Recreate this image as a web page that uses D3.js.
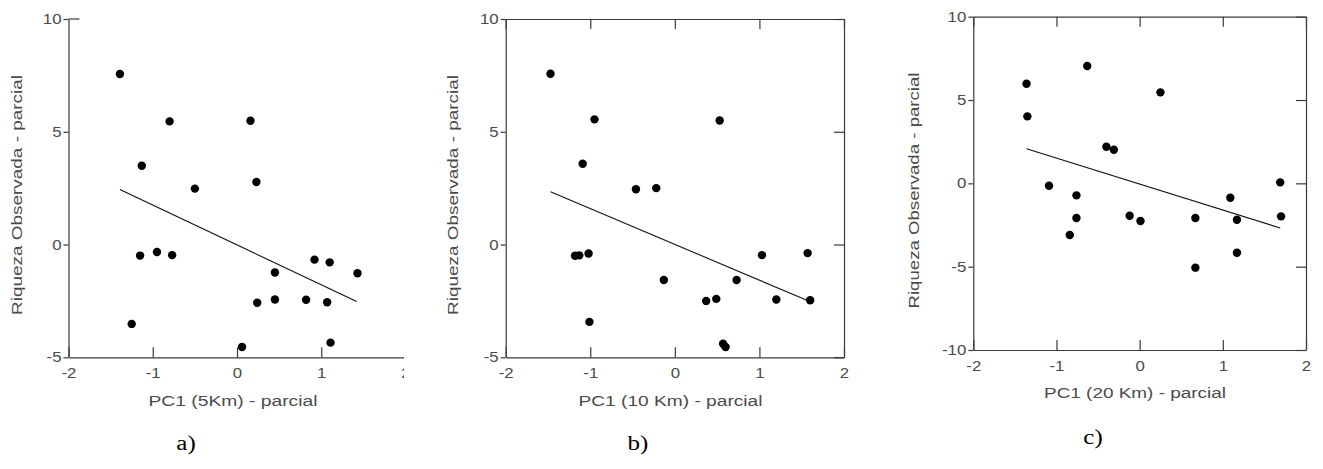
<!DOCTYPE html>
<html><head><meta charset="utf-8">
<script src="https://cdn.jsdelivr.net/npm/d3@7/dist/d3.min.js"></script>
<style>body{margin:0;background:#fff}svg{display:block}</style>
</head><body>
<svg id="c" width="1323" height="469"></svg>
<script>
// ---- data ----
const xTicks = [-2, -1, 0, 1, 2];
const yTicksAB = [-5, 0, 5, 10];
const yTicksC = [-10, -5, 0, 5, 10];

const xA = [-1.39,-0.80,0.16,-1.13,-0.50,0.23,-1.15,-0.95,-0.77,0.92,1.10,0.45,1.43,0.24,0.45,0.82,1.07,-1.25,0.06,1.11];
const yA = [7.56,5.46,5.49,3.49,2.48,2.77,-0.49,-0.33,-0.47,-0.67,-0.79,-1.24,-1.27,-2.58,-2.44,-2.45,-2.56,-3.52,-4.54,-4.35];
const fitA = {x: [-1.39, 1.42], y: [2.44, -2.53]};

const xB = [-1.47,-0.95,0.53,-1.09,-0.46,-0.22,-1.18,-1.13,-1.02,1.03,1.57,-0.13,0.73,0.37,0.49,1.20,1.60,-1.01,0.57,0.60];
const yB = [7.57,5.55,5.50,3.58,2.45,2.50,-0.50,-0.48,-0.40,-0.47,-0.38,-1.57,-1.57,-2.50,-2.41,-2.44,-2.47,-3.43,-4.40,-4.54];
const fitB = {x: [-1.47, 1.59], y: [2.34, -2.52]};

const xC = [-1.36,-1.35,-0.63,0.25,-0.40,-0.31,-1.09,-0.76,-0.76,-0.84,-0.12,0.01,0.67,0.67,1.09,1.17,1.17,1.69,1.70];
const yC = [5.98,4.02,7.04,5.46,2.20,2.02,-0.14,-0.72,-2.08,-3.10,-1.94,-2.26,-2.08,-5.06,-0.86,-2.18,-4.16,0.06,-1.98];
const fitC = {x: [-1.36, 1.69], y: [2.08, -2.68]};

const yTitle = "Riqueza Observada - parcial";
const xTitles = ["PC1 (5Km) - parcial", "PC1 (10 Km) - parcial", "PC1 (20 Km) - parcial"];
const panelLabels = ["a)", "b)", "c)"];

// ---- layout ----
const svg = d3.select("#c");
const TXT = "#4a4a4a", AX = "#3a3a3a";
const SANS = "Arial, 'Liberation Sans', sans-serif";
const SX = 1.2;
const fmt = d => String(d);

const panels = [
  {xs: xA, ys: yA, fit: fitA, yTicks: yTicksAB, yDom: [-5, 10], L: 68.5, R: 405.5, T: 19, B: 357.3, clip: 404, box: false,
   yTitleX: 22, yTitleY: 195, yTitleLen: 240, xTitleX: 233, xTitleY: 406, xTitleLen: 169, labX: 186, labY: 450},
  {xs: xB, ys: yB, fit: fitB, yTicks: yTicksAB, yDom: [-5, 10], L: 505.7, R: 844, T: 19, B: 357.3, clip: null, box: true,
   yTitleX: 458, yTitleY: 195, yTitleLen: 240, xTitleX: 670.5, xTitleY: 406, xTitleLen: 184, labX: 638, labY: 450},
  {xs: xC, ys: yC, fit: fitC, yTicks: yTicksC, yDom: [-10, 10], L: 973.3, R: 1306, T: 16.7, B: 350, clip: null, box: true,
   yTitleX: 919, yTitleY: 190.5, yTitleLen: 236, xTitleX: 1135, xTitleY: 398, xTitleLen: 182, labX: 1093, labY: 444}
];

panels.forEach((p, i) => {
  const x = d3.scaleLinear().domain([-2, 2]).range([p.L, p.R]);
  const y = d3.scaleLinear().domain(p.yDom).range([p.B, p.T]);
  let g = svg.append("g");
  if (p.clip) {
    svg.append("clipPath").attr("id", "clip" + i).append("rect")
      .attr("x", 0).attr("y", 0).attr("width", p.clip).attr("height", 469);
    g.attr("clip-path", "url(#clip" + i + ")");
  }

  if (p.box) {
    g.append("g").attr("transform", `translate(0,${p.T})`)
      .call(d3.axisTop(x).tickValues(xTicks).tickSizeInner(-10).tickSizeOuter(0).tickFormat(""));
    g.append("g").attr("transform", `translate(${p.R},0)`)
      .call(d3.axisRight(y).tickValues(p.yTicks).tickSizeInner(-10).tickSizeOuter(0).tickFormat(""));
  } else {
    g.append("line").attr("x1", p.L).attr("x2", p.L + 11).attr("y1", p.T).attr("y2", p.T)
      .attr("stroke", AX).attr("stroke-width", 1.2);
  }

  const gx = g.append("g").attr("transform", `translate(0,${p.B})`)
    .call(d3.axisBottom(x).tickValues(xTicks).tickSizeInner(-10).tickSizeOuter(0).tickPadding(11).tickFormat(fmt));
  const gy = g.append("g").attr("transform", `translate(${p.L},0)`)
    .call(d3.axisLeft(y).tickValues(p.yTicks).tickSizeInner(5).tickSizeOuter(0).tickPadding(2).tickFormat(fmt));

  g.selectAll(".domain").attr("stroke", AX).attr("stroke-width", 1.2);
  g.selectAll(".tick line").attr("stroke", AX).attr("stroke-width", 1.2);
  [gx, gy].forEach(a => a.selectAll("text")
    .attr("fill", TXT).style("font-family", SANS).style("font-size", "14px"));
  gx.selectAll("text").attr("transform", `scale(${SX},1)`);
  gy.selectAll("text").attr("x", -7 / SX).attr("transform", `scale(${SX},1)`);

  g.append("line")
    .attr("x1", x(p.fit.x[0])).attr("y1", y(p.fit.y[0]))
    .attr("x2", x(p.fit.x[1])).attr("y2", y(p.fit.y[1]))
    .attr("stroke", "#111").attr("stroke-width", 1.1);

  g.selectAll("circle.pt").data(p.xs.map((v, k) => [v, p.ys[k]])).join("circle")
    .attr("class", "pt").attr("cx", d => x(d[0])).attr("cy", d => y(d[1]))
    .attr("r", 4.2).attr("fill", "#000");

  svg.append("text").attr("transform", `translate(${p.yTitleX},${p.yTitleY}) rotate(-90)`)
    .attr("text-anchor", "middle").attr("fill", TXT)
    .style("font-family", SANS).style("font-size", "15.5px")
    .attr("textLength", p.yTitleLen).attr("lengthAdjust", "spacingAndGlyphs")
    .text(yTitle);
  svg.append("text").attr("x", p.xTitleX).attr("y", p.xTitleY)
    .attr("text-anchor", "middle").attr("fill", TXT)
    .style("font-family", SANS).style("font-size", "15.5px")
    .attr("textLength", p.xTitleLen).attr("lengthAdjust", "spacingAndGlyphs")
    .text(xTitles[i]);
  svg.append("text").attr("transform", `translate(${p.labX},${p.labY}) scale(1.25,1)`)
    .attr("text-anchor", "middle").attr("fill", "#000")
    .style("font-family", "'Times New Roman', 'Liberation Serif', serif").style("font-size", "20px")
    .text(panelLabels[i]);
});
</script>
</body></html>
